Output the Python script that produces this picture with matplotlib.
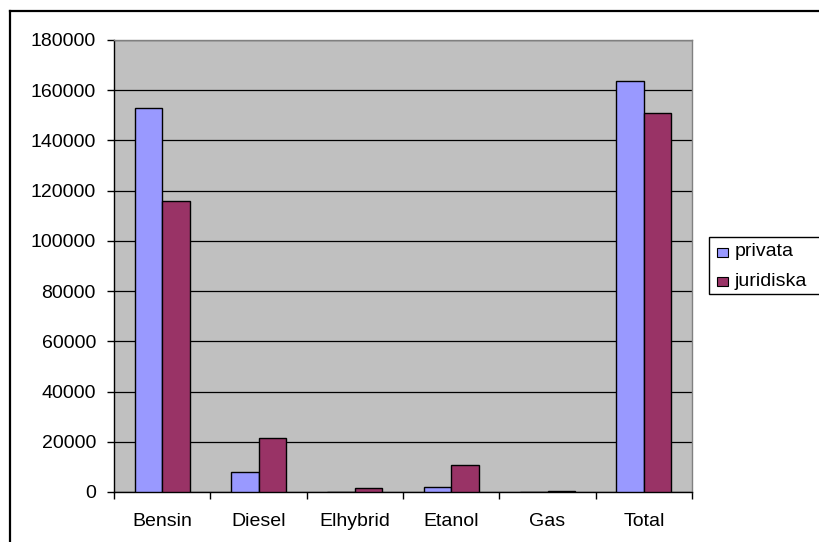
import matplotlib
matplotlib.use("Agg")
import matplotlib.pyplot as plt
from matplotlib.patches import Rectangle
from matplotlib.lines import Line2D
import numpy as np

categories = ["Bensin", "Diesel", "Elhybrid", "Etanol", "Gas", "Total"]
series_names = ["privata", "juridiska"]
privata = [153000, 8100, 0, 1900, 0, 163800]
juridiska = [116000, 21600, 1500, 10600, 500, 150800]
yticks = [0, 20000, 40000, 60000, 80000, 100000, 120000, 140000, 160000, 180000]
colors = ["#9999FF", "#993366"]

plt.rcParams['font.family'] = ['Liberation Sans', 'DejaVu Sans']

W, H = 819, 542
fig = plt.figure(figsize=(W/100, H/100), dpi=100)
fig.patch.set_facecolor("white")
ax = fig.add_axes([114/W, 1-492/H, (692-114)/W, (492-40)/H])
ax.set_facecolor("#C0C0C0")

x = np.arange(len(categories))
w = 0.285
ax.bar(x - w/2, privata, w, color=colors[0], edgecolor="black", linewidth=1.0, zorder=3)
ax.bar(x + w/2, juridiska, w, color=colors[1], edgecolor="black", linewidth=1.0, zorder=3)

ax.set_xlim(-0.5, len(categories) - 0.5)
ax.set_ylim(0, 180000)
ax.set_yticks(yticks)
ax.set_yticklabels([str(v) for v in yticks], fontsize=14)
ax.yaxis.grid(True, color="black", linewidth=0.9, zorder=1)
ax.set_axisbelow(True)

ax.set_xticks(x)
ax.set_xticklabels(categories, fontsize=14)
ax.tick_params(axis="x", which="major", length=0, pad=15)
ax.set_xticks(np.arange(-0.5, len(categories), 1.0), minor=True)
ax.tick_params(axis="x", which="minor", length=5, width=1, color="black", direction="out")
ax.tick_params(axis="y", length=5, width=1, color="black", direction="out", pad=8)

for s in ["top", "right"]:
    ax.spines[s].set_color("#808080")
    ax.spines[s].set_linewidth(1)
for s in ["left", "bottom"]:
    ax.spines[s].set_color("black")
    ax.spines[s].set_linewidth(1)

# legend (box runs off the right edge, as in the reference)
def fx(px):
    return px / W
def fy(py):
    return 1 - py / H

fig.patches.append(Rectangle((fx(709), fy(294)), fx(140), (294-237)/H, transform=fig.transFigure,
                             fill=True, facecolor="white", edgecolor="black", linewidth=1))
row_y = [252, 281]
for name, col, ry in zip(series_names, colors, row_y):
    fig.patches.append(Rectangle((fx(717), fy(ry + 5)), fx(11), 9/H, transform=fig.transFigure,
                                 facecolor=col, edgecolor="black", linewidth=0.8))
    fig.text(fx(735), fy(ry), name, fontsize=14, ha="left", va="center")

# outer frame: top and left edges only visible
fig.add_artist(Line2D([fx(10), fx(830)], [fy(11), fy(11)], transform=fig.transFigure,
                      color="black", linewidth=1.6))
fig.add_artist(Line2D([fx(10), fx(10)], [fy(11), fy(560)], transform=fig.transFigure,
                      color="black", linewidth=1.6))

fig.savefig("out.png", dpi=100)
